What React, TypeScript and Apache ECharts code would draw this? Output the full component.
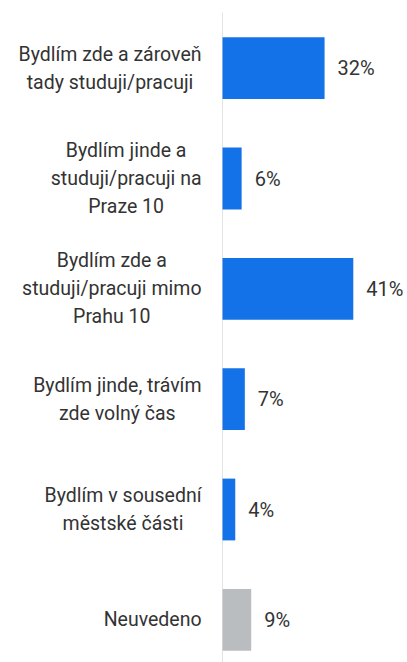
import React, { useEffect, useRef } from "react";
import * as echarts from "echarts";

const categories: string[] = [
  "Bydlím zde a zároveň\ntady studuji/pracuji",
  "Bydlím jinde a\nstuduji/pracuji na\nPraze 10",
  "Bydlím zde a\nstuduji/pracuji mimo\nPrahu 10",
  "Bydlím jinde, trávím\nzde volný čas",
  "Bydlím v sousední\nměstské části",
  "Neuvedeno",
];
const values: number[] = [32, 6, 41, 7, 4, 9];
const greyCategory = "Neuvedeno";

const BLUE = "#1472e8";
const GREY = "#babdc0";
const TEXT = "#333333";
const FONT = "Roboto, 'Noto Sans', sans-serif";

export default function App() {
  const ref = useRef<HTMLDivElement>(null);
  useEffect(() => {
    if (!ref.current) return;
    const chart = echarts.init(ref.current, undefined, { renderer: "svg" });
    chart.setOption({
      animation: false,
      backgroundColor: "#ffffff",
      grid: {
        left: 222.5,
        top: 13,
        width: 159.5,
        height: 662,
        containLabel: false,
        outerBoundsMode: "none",
      },
      xAxis: {
        type: "value",
        min: 0,
        max: 50,
        show: false,
        splitLine: { show: false },
      },
      yAxis: {
        type: "category",
        data: categories,
        inverse: true,
        axisLine: { show: true, lineStyle: { color: "#e4e4e4", width: 1 } },
        axisTick: { show: false },
        axisLabel: {
          margin: 21,
          align: "right",
          formatter: (v: string) =>
            v
              .split("\n")
              .map((l) => `{c|${l}}`)
              .join("\n"),
          rich: {
            c: {
              align: "center",
              fontSize: 19.5,
              lineHeight: 28,
              color: TEXT,
              fontFamily: FONT,
            },
          },
        },
      },
      series: [
        {
          type: "bar",
          data: values,
          barCategoryGap: "44%",
          itemStyle: {
            color: (p: any) => (p.name === greyCategory ? GREY : BLUE),
          },
          label: {
            show: true,
            position: "right",
            distance: 13,
            formatter: "{c}%",
            fontSize: 20,
            color: TEXT,
            fontFamily: FONT,
          },
        },
      ],
    });
    return () => chart.dispose();
  }, []);
  return (
    <div
      ref={ref}
      style={{ position: "absolute", left: 0, top: 0, width: 407, height: 662 }}
    />
  );
}
